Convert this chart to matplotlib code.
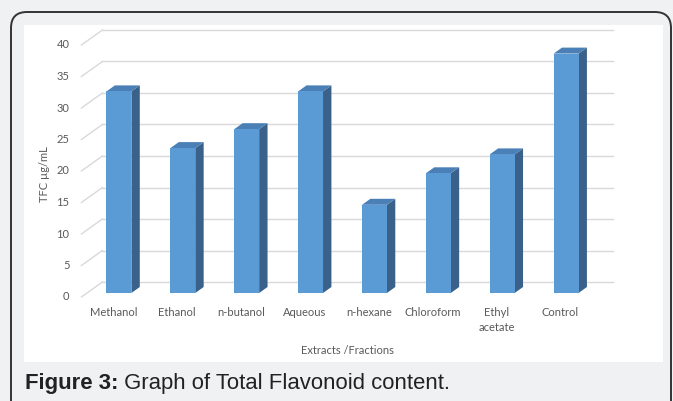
import matplotlib.pyplot as plt
import matplotlib.transforms as mtransforms
from matplotlib.patches import Polygon, FancyBboxPatch, Rectangle

categories = ['Methanol', 'Ethanol', 'n-butanol', 'Aqueous', 'n-hexane',
              'Chloroform', 'Ethyl\nacetate', 'Control']
tfc = [32, 23, 26, 32, 14, 19, 22, 38]
yticks = [0, 5, 10, 15, 20, 25, 30, 35, 40]

W, H = 673, 401
front_c, side_c, top_c = '#5b9bd5', '#3a6189', '#4a80b6'
grid_c = '#d9d9d9'
txt_c = '#595959'

fig = plt.figure(figsize=(W / 100, H / 100), dpi=100)
fig.patch.set_facecolor('#f0f1f2')
px = mtransforms.IdentityTransform()

# white chart panel and the rounded frame around everything
fig.patches.append(Rectangle((24, H - 362), 639, 337, transform=px,
                             facecolor='white', edgecolor='none', zorder=-2))
fig.patches.append(FancyBboxPatch((11, -30), 660, H - 12 + 30, transform=px,
                                  boxstyle='round,pad=0,rounding_size=16',
                                  facecolor='none', edgecolor='#333333',
                                  lw=1.4, zorder=-1))

# axes = the plane of the bar fronts
ax = fig.add_axes([87 / W, (H - 293) / H, 511 / W, 252 / H])
ax.set_xlim(-0.5, 7.5)
ax.set_ylim(0, 40)
ax.axis('off')
sx = 511 / 8
sy = 252 / 40


def shift(d):
    # data offset for a depth of d pixels (oblique projection)
    return 1.4 * d / sx, d / sy


# walls: back gridlines and diagonal side-wall lines
bx, by = shift(11)
fx, fy = shift(-4)
for v in yticks:
    ax.plot([-0.5 + bx, 7.5 + bx], [v + by, v + by], color=grid_c, lw=1,
            clip_on=False, zorder=1)
    ax.plot([-0.5 + fx, -0.5 + bx], [v + fy, v + by], color=grid_c, lw=1,
            clip_on=False, zorder=1)
    ax.text(-0.5 + fx - 12 / sx, v + fy, str(v), ha='right', va='center',
            fontsize=8, color=txt_c, family='Lato')

# 3d bars
w = 0.39
dx, dy = shift(6)
xs = range(len(categories))
ax.bar(xs, tfc, width=w, color=front_c, zorder=3, clip_on=False)
for x, v in zip(xs, tfc):
    r, l = x + w / 2, x - w / 2
    ax.add_patch(Polygon([(r, 0), (r + dx, dy), (r + dx, v + dy), (r, v)],
                         closed=True, facecolor=side_c, edgecolor='none',
                         zorder=2, clip_on=False))
    ax.add_patch(Polygon([(l, v), (r, v), (r + dx, v + dy), (l + dx, v + dy)],
                         closed=True, facecolor=top_c, edgecolor='none',
                         zorder=2, clip_on=False))

for x, name in zip(xs, categories):
    ax.text(x + fx, -14 / sy, name, ha='center', va='top', fontsize=8,
            color=txt_c, family='Lato', linespacing=1.45)

fig.text(347 / W, 1 - 350 / H, 'Extracts /Fractions', ha='center',
         va='center', fontsize=8, color=txt_c, family='Lato')
fig.text(45 / W, 1 - 174 / H, 'TFC µg/mL', ha='center', va='center',
         rotation=90, fontsize=8, color=txt_c, family='Lato')

# caption
t1 = fig.text(25 / W, 1 - 384 / H, 'Figure 3:', ha='left', va='center',
              fontsize=15.9, fontweight='bold', color='#222222',
              family='Liberation Sans')
ax.annotate(' Graph of Total Flavonoid content.', xy=(1, 0), xycoords=t1,
            ha='left', va='bottom', fontsize=15.9, color='#222222',
            family='Liberation Sans', annotation_clip=False)

fig.savefig('out.png', dpi=100, facecolor=fig.get_facecolor())
